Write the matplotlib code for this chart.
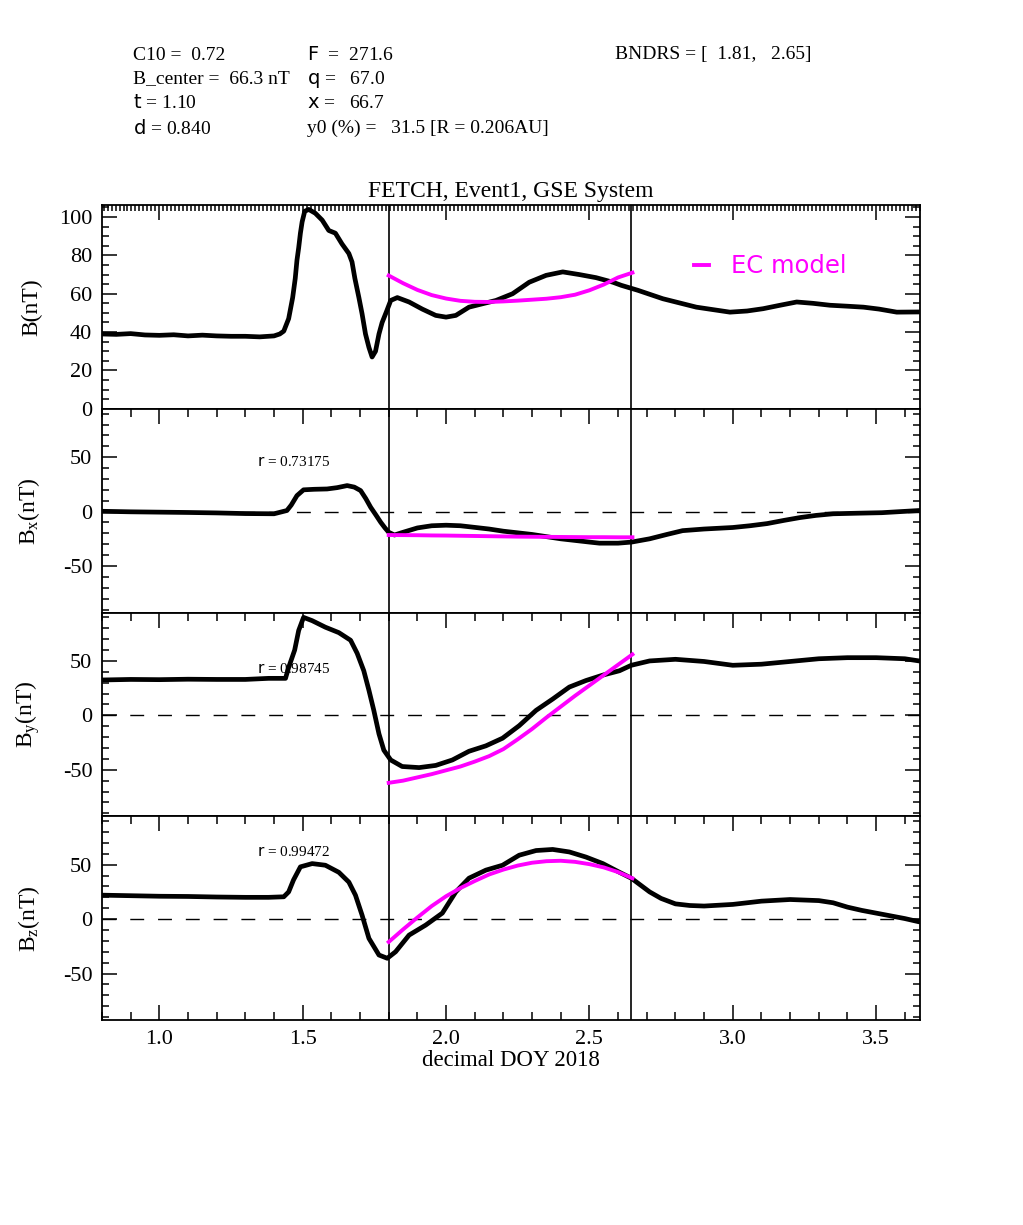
import numpy as np
import matplotlib.pyplot as plt
from matplotlib.ticker import MultipleLocator

plt.rcParams['font.family'] = ['Liberation Serif', 'DejaVu Serif']
plt.rcParams['mathtext.fontset'] = 'custom'
plt.rcParams['mathtext.rm'] = 'Liberation Serif'
plt.rcParams['mathtext.it'] = 'Liberation Serif:italic'
plt.rcParams['mathtext.sf'] = 'DejaVu Sans'
plt.rcParams['axes.unicode_minus'] = False

# =========================
# 数据
# =========================
bndrs = [1.802, 2.645]

t_b = [0.80, 0.85, 0.90, 0.95, 1.00, 1.05, 1.10, 1.15, 1.20, 1.25, 1.30, 1.35, 1.40,
       1.42, 1.434, 1.451, 1.465, 1.474, 1.480, 1.486, 1.492, 1.498, 1.507, 1.521,
       1.544, 1.568, 1.591, 1.614, 1.637, 1.661, 1.672, 1.682, 1.696, 1.707, 1.719,
       1.731, 1.742, 1.754, 1.766, 1.777, 1.793, 1.807, 1.830, 1.871, 1.917, 1.964,
       2.00, 2.034, 2.08, 2.12, 2.174, 2.232, 2.29, 2.349, 2.407, 2.465, 2.523, 2.582,
       2.611, 2.669, 2.756, 2.873, 2.99, 3.05, 3.106, 3.165, 3.223, 3.28, 3.339, 3.40,
       3.456, 3.51, 3.572, 3.65]
b_obs = [39.0, 38.8, 39.2, 38.5, 38.3, 38.6, 38.0, 38.4, 38.0, 37.8, 37.8, 37.5, 38.0,
         39.0, 40.5, 47.0, 58.0, 68.0, 77.5, 84.0, 91.6, 97.5, 103.0, 104.0,
         102.0, 98.4, 93.0, 91.6, 86.0, 81.0, 76.6, 68.0, 58.0, 49.6, 39.0,
         32.0, 27.0, 30.0, 39.0, 45.0, 51.0, 56.5, 58.0, 55.7, 52.0, 48.7,
         47.8, 48.7, 53.0, 54.5, 56.5, 60.0, 66.0, 69.6, 71.4, 70.0, 68.4, 66.0,
         64.4, 61.8, 57.4, 53.0, 50.4, 51.0, 52.2, 54.0, 55.7, 55.0, 54.0, 53.5,
         53.0, 52.0, 50.4, 50.5]

t_bx = [0.80, 0.90, 1.00, 1.10, 1.20, 1.30, 1.40, 1.445, 1.46, 1.48, 1.503, 1.54,
        1.585, 1.62, 1.655, 1.68, 1.702, 1.72, 1.737, 1.755, 1.772, 1.787, 1.80, 1.82,
        1.85, 1.90, 1.95, 2.00, 2.05, 2.10, 2.15, 2.20, 2.25, 2.30, 2.35, 2.40, 2.45,
        2.50, 2.535, 2.60, 2.647, 2.71, 2.77, 2.825, 2.90, 3.00, 3.06, 3.12, 3.18,
        3.234, 3.29, 3.35, 3.43, 3.52, 3.65]
bx_obs = [0.3, -0.2, -0.5, -0.8, -1.2, -1.8, -2.0, 1.0, 6.0, 14.7, 20.0, 20.5,
          20.8, 22.0, 23.9, 22.5, 19.3, 12.0, 4.0, -3.0, -9.8, -15.0, -19.0, -21.5,
          -19.0, -15.0, -13.0, -12.5, -13.0, -14.5, -16.0, -18.0, -19.5, -21.0, -23.0, -25.0, -26.5,
          -28.0, -29.0, -29.0, -28.0, -25.0, -21.0, -17.5, -16.0, -14.6, -13.0, -11.0, -8.0,
          -5.5, -3.5, -2.0, -1.5, -1.0, 1.0]

t_by = [0.80, 0.90, 1.00, 1.10, 1.20, 1.30, 1.381, 1.44, 1.451, 1.472, 1.486, 1.503,
        1.533, 1.579, 1.626, 1.667, 1.690, 1.713, 1.731, 1.748, 1.766, 1.783, 1.807,
        1.847, 1.906, 1.964, 2.022, 2.080, 2.139, 2.197, 2.255, 2.314, 2.372, 2.430,
        2.488, 2.547, 2.605, 2.646, 2.710, 2.80, 2.90, 3.00, 3.10, 3.20, 3.30, 3.40,
        3.50, 3.60, 3.65]
by_obs = [32.5, 33.0, 32.8, 33.2, 33.0, 33.0, 34.0, 34.0, 44.0, 60.0, 78.0, 90.0,
          87.0, 81.0, 76.0, 69.0, 57.0, 41.0, 23.0, 4.6, -17.0, -32.0, -41.0,
          -47.0, -48.0, -46.0, -41.0, -33.0, -28.0, -21.0, -9.5, 4.6, 15.0, 26.0,
          32.0, 37.0, 41.0, 46.0, 50.0, 51.5, 49.5, 46.0, 47.0, 49.5, 52.0, 53.0,
          53.0, 52.0, 50.0]

t_bz = [0.80, 0.90, 1.00, 1.10, 1.20, 1.30, 1.381, 1.434, 1.451, 1.468, 1.492, 1.533,
        1.579, 1.626, 1.661, 1.684, 1.707, 1.731, 1.766, 1.795, 1.824, 1.871, 1.929,
        1.987, 2.034, 2.080, 2.139, 2.197, 2.255, 2.314, 2.372, 2.430, 2.488, 2.547,
        2.605, 2.646, 2.710, 2.75, 2.80, 2.85, 2.90, 3.00, 3.10, 3.20, 3.30, 3.35,
        3.40, 3.45, 3.50, 3.55, 3.60, 3.65]
bz_obs = [22.0, 21.5, 21.0, 20.8, 20.3, 20.0, 20.0, 20.5, 25.0, 36.0, 48.0, 51.0,
          49.5, 43.0, 34.0, 22.0, 3.7, -17.7, -33.0, -36.0, -30.0, -14.7, -5.5,
          5.5, 25.0, 37.6, 45.0, 49.5, 58.7, 63.0, 64.0, 61.7, 57.0, 51.0,
          43.0, 37.6, 25.0, 19.0, 14.0, 12.5, 12.0, 13.5, 16.5, 18.0, 17.0, 15.0,
          11.0, 8.0, 5.5, 3.0, 0.5, -2.5]

# EC 模型
t_mod = [1.80, 1.85, 1.90, 1.95, 2.00, 2.05, 2.10, 2.15, 2.20, 2.25, 2.30, 2.35,
         2.40, 2.45, 2.50, 2.55, 2.60, 2.65]
b_mod = [69.5, 65.5, 62.0, 59.3, 57.5, 56.3, 55.8, 55.7, 56.0, 56.4, 56.9, 57.4,
         58.2, 59.5, 61.8, 64.8, 68.5, 71.0]
bx_mod = [-21.5, -21.6, -21.7, -21.9, -22.0, -22.2, -22.4, -22.6, -22.8, -23.0, -23.1, -23.2,
          -23.3, -23.4, -23.5, -23.5, -23.6, -23.6]
by_mod = [-62.0, -60.0, -57.0, -54.0, -50.5, -47.0, -42.5, -37.5, -31.0, -22.0, -12.5, -2.0,
          8.0, 18.0, 27.5, 37.0, 46.5, 56.0]
bz_mod = [-21.0, -9.5, 1.5, 12.0, 21.0, 28.5, 35.0, 41.0, 45.5, 49.2, 51.8, 53.2,
          53.6, 52.6, 50.5, 47.5, 43.2, 37.5]

r_values = ["0.73175", "0.98745", "0.99472"]

header_left = ["C10 =  0.72", "B_center =  66.3 nT", r"$\mathsf{t}$ = 1.10", r"$\mathsf{d}$ = 0.840"]
header_mid = [r"$\mathsf{F}$  =  271.6", r"$\mathsf{q}$ =   67.0", r"$\mathsf{x}$ =   66.7",
              "y0 (%) =   31.5 [R = 0.206AU]"]
header_right = "BNDRS = [  1.81,   2.65]"

# =========================
# 作图
# =========================
W, H = 1023, 1225
fig = plt.figure(figsize=(W / 100, H / 100), dpi=100)

left, right = 102, 920
top, bottom = 205, 1020
ph = (bottom - top) / 4

axes = []
for i in range(4):
    y0 = top + (i + 1) * ph
    ax = fig.add_axes([left / W, 1 - y0 / H, (right - left) / W, ph / H])
    axes.append(ax)

ylims = [(0, 106.3), (-92.7, 94.5), (-92.7, 94.5), (-92.7, 94.5)]
ymaj = [20, 50, 50, 50]
ymin = [5, 10, 10, 10]
ylabels = ["B(nT)", r"B$_\mathrm{x}$(nT)", r"B$_\mathrm{y}$(nT)", r"B$_\mathrm{z}$(nT)"]
obs = [(t_b, b_obs), (t_bx, bx_obs), (t_by, by_obs), (t_bz, bz_obs)]
mods = [b_mod, bx_mod, by_mod, bz_mod]

for i, ax in enumerate(axes):
    ax.set_xlim(0.80, 3.653)
    ax.set_ylim(*ylims[i])
    ax.yaxis.set_major_locator(MultipleLocator(ymaj[i]))
    ax.yaxis.set_minor_locator(MultipleLocator(ymin[i]))
    ax.xaxis.set_major_locator(MultipleLocator(0.5))
    ax.xaxis.set_minor_locator(MultipleLocator(0.1))
    ax.tick_params(which='both', direction='in', left=True, right=True,
                   top=(i > 0), bottom=(i == 3), labelbottom=(i == 3),
                   labelsize=16, width=1.1, pad=7)
    ax.tick_params(axis='y', which='major', length=11)
    ax.tick_params(axis='y', which='minor', length=5)
    ax.tick_params(axis='x', which='major', length=11)
    ax.tick_params(axis='x', which='minor', length=6)
    for s in ax.spines.values():
        s.set_linewidth(1.3)

    t, v = obs[i]
    ax.plot(t, v, '-', color='k', lw=3.4, solid_capstyle='round', zorder=3)
    ax.plot(t_mod, mods[i], '-', color='#ff00ff', lw=2.8, zorder=4, label="EC model")
    for xb in bndrs:
        ax.axvline(xb, color='k', lw=1.2, zorder=2)
    if i > 0:
        ax.axhline(0, color='k', lw=1.0, dashes=(10, 10), zorder=1)
        ax.text(0.1895, [0.74, 0.725, 0.824][i - 1], r"$\mathsf{r}$ = " + r_values[i - 1],
                transform=ax.transAxes, fontsize=11, va='center')
    ax.set_ylabel(ylabels[i], fontsize=17)
    ax.yaxis.set_label_coords(-0.073, 0.5)

# 第一幅图顶部的密集刻度
axes[0].xaxis.set_minor_locator(MultipleLocator(1 / 72))
axes[0].tick_params(axis='x', which='both', top=True, bottom=False)
axes[0].tick_params(axis='x', which='minor', length=4.5)

axes[0].set_title("FETCH, Event1, GSE System", fontsize=17, pad=6)
axes[0].legend(loc='center left', bbox_to_anchor=(0.724, 0.70), frameon=False,
               handlelength=0.6, handletextpad=0.9, borderpad=0, borderaxespad=0,
               labelcolor='#ff00ff', prop={'family': 'DejaVu Sans', 'size': 17.5})

axes[3].set_xlabel("decimal DOY 2018", fontsize=16.5, labelpad=1)

# 顶部参数文字
rows = [55, 79, 103, 128]
for k, y in enumerate(rows):
    fig.text(133 / W, 1 - y / H, header_left[k], fontsize=14, va='center')
    fig.text(307 / W, 1 - y / H, header_mid[k], fontsize=14, va='center')
fig.text(615 / W, 1 - rows[0] / H, header_right, fontsize=14, va='center')

fig.savefig("out.png", dpi=100)
